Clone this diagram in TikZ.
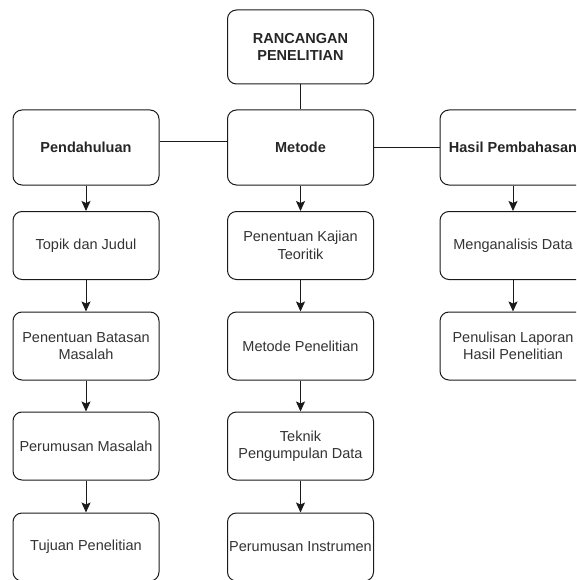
\documentclass[tikz,border=0pt]{standalone}
\usepackage{fontspec}
\setmainfont{Liberation Sans}
\usetikzlibrary{arrows.meta}
\definecolor{edge}{HTML}{1A1A1A}
\definecolor{txt}{HTML}{333333}
\tikzset{
  box/.style={draw=edge, line width=1pt, rounded corners=9pt, minimum width=146pt,
    minimum height=68pt, inner sep=0pt, align=center, text=txt,
    font=\fontsize{14.5pt}{17.5pt}\selectfont},
  head/.style={box, text=black!85, font=\fontsize{14.5pt}{17.5pt}\selectfont\bfseries},
  tall/.style={minimum height=75pt},
  link/.style={draw=edge, line width=1pt},
  flow/.style={link, -{Stealth[length=10pt,width=9pt,inset=2pt]}}
}
\begin{document}
\begin{tikzpicture}[x=1pt,y=-1pt]
\clip (0,0) rectangle (576,580);
\useasboundingbox (0,0) rectangle (576,580);
\node[head, minimum height=74pt] (top) at (300.5,47) {RANCANGAN\\PENELITIAN};
\node[head, tall] (pend) at (86,147.5) {Pendahuluan};
\node[head, tall] (met) at (300.5,147.5) {Metode};
\node[head, tall] (has) at (513,147.5) {Hasil Pembahasan};
\node[box] (l2) at (86,245.5) {Topik dan Judul};
\node[box] (l3) at (86,346) {Penentuan Batasan\\Masalah};
\node[box] (l4) at (86,446) {Perumusan Masalah};
\node[box] (l5) at (86,547) {Tujuan Penelitian};
\node[box] (m2) at (300.5,245.5) {Penentuan Kajian\\Teoritik};
\node[box] (m3) at (300.5,346) {Metode Penelitian};
\node[box] (m4) at (300.5,446) {Teknik\\Pengumpulan Data};
\node[box] (m5) at (300.5,547) {Perumusan Instrumen};
\node[box] (r2) at (513,245.5) {Menganalisis Data};
\node[box] (r3) at (513,346) {Penulisan Laporan\\Hasil Penelitian};
\draw[link] (top.south) -- (met.north);
\draw[link] ([yshift=5.5pt]pend.east) -- ([yshift=5.5pt]met.west);
\draw[link] (met.east) -- (has.west);
\draw[flow] (pend.south) -- (l2.north);
\draw[flow] (l2.south) -- (l3.north);
\draw[flow] (l3.south) -- (l4.north);
\draw[flow] (l4.south) -- (l5.north);
\draw[flow] (met.south) -- (m2.north);
\draw[flow] (m2.south) -- (m3.north);
\draw[flow] (m3.south) -- (m4.north);
\draw[flow] (m4.south) -- (m5.north);
\draw[flow] (has.south) -- (r2.north);
\draw[flow] (r2.south) -- (r3.north);
\end{tikzpicture}
\end{document}
